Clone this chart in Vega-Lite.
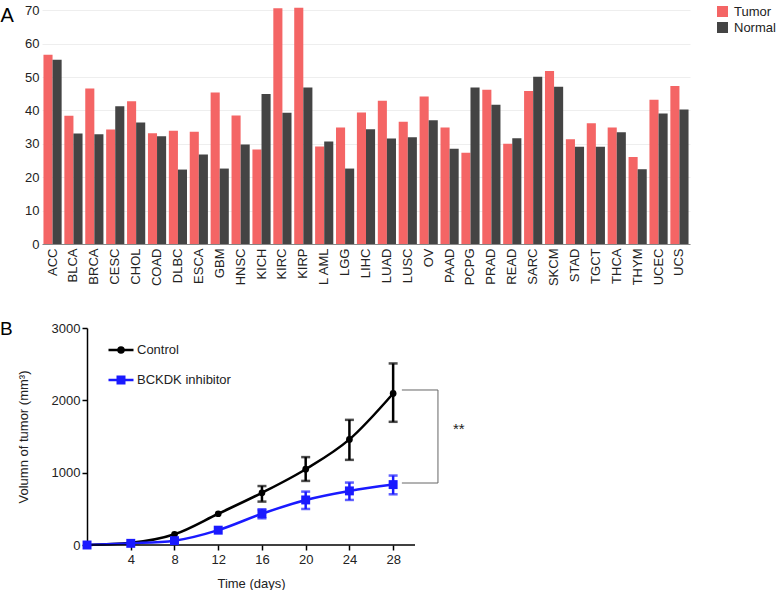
{
  "$schema": "https://vega.github.io/schema/vega-lite/v6.json",
  "padding": {"left": 0, "top": 4, "right": 0, "bottom": 0},
  "spacing": 34,
  "resolve": {"scale": {"color": "independent"}, "legend": {"color": "independent"}},
  "config": {
    "font": "Liberation Sans",
    "view": {"stroke": null},
    "axis": {"labelColor": "#222222", "titleColor": "#222222", "labelFontSize": 13, "titleFontSize": 13, "titleFontWeight": "normal"},
    "legend": {"labelColor": "#222222", "labelFontSize": 13}
  },
  "datasets": {
    "expr": [
      {"cancer": "ACC", "type": "Tumor", "value": 56.7}, {"cancer": "ACC", "type": "Normal", "value": 55.2},
      {"cancer": "BLCA", "type": "Tumor", "value": 38.4}, {"cancer": "BLCA", "type": "Normal", "value": 33.1},
      {"cancer": "BRCA", "type": "Tumor", "value": 46.6}, {"cancer": "BRCA", "type": "Normal", "value": 32.9},
      {"cancer": "CESC", "type": "Tumor", "value": 34.3}, {"cancer": "CESC", "type": "Normal", "value": 41.3},
      {"cancer": "CHOL", "type": "Tumor", "value": 42.8}, {"cancer": "CHOL", "type": "Normal", "value": 36.4},
      {"cancer": "COAD", "type": "Tumor", "value": 33.2}, {"cancer": "COAD", "type": "Normal", "value": 32.3},
      {"cancer": "DLBC", "type": "Tumor", "value": 33.9}, {"cancer": "DLBC", "type": "Normal", "value": 22.3},
      {"cancer": "ESCA", "type": "Tumor", "value": 33.6}, {"cancer": "ESCA", "type": "Normal", "value": 26.8},
      {"cancer": "GBM", "type": "Tumor", "value": 45.4}, {"cancer": "GBM", "type": "Normal", "value": 22.6},
      {"cancer": "HNSC", "type": "Tumor", "value": 38.5}, {"cancer": "HNSC", "type": "Normal", "value": 29.8},
      {"cancer": "KICH", "type": "Tumor", "value": 28.3}, {"cancer": "KICH", "type": "Normal", "value": 44.9},
      {"cancer": "KIRC", "type": "Tumor", "value": 70.6}, {"cancer": "KIRC", "type": "Normal", "value": 39.3},
      {"cancer": "KIRP", "type": "Tumor", "value": 70.8}, {"cancer": "KIRP", "type": "Normal", "value": 46.9},
      {"cancer": "L AML", "type": "Tumor", "value": 29.2}, {"cancer": "L AML", "type": "Normal", "value": 30.7},
      {"cancer": "LGG", "type": "Tumor", "value": 34.9}, {"cancer": "LGG", "type": "Normal", "value": 22.6},
      {"cancer": "LIHC", "type": "Tumor", "value": 39.4}, {"cancer": "LIHC", "type": "Normal", "value": 34.4},
      {"cancer": "LUAD", "type": "Tumor", "value": 42.9}, {"cancer": "LUAD", "type": "Normal", "value": 31.6},
      {"cancer": "LUSC", "type": "Tumor", "value": 36.6}, {"cancer": "LUSC", "type": "Normal", "value": 32.0},
      {"cancer": "OV", "type": "Tumor", "value": 44.2}, {"cancer": "OV", "type": "Normal", "value": 37.1},
      {"cancer": "PAAD", "type": "Tumor", "value": 34.9}, {"cancer": "PAAD", "type": "Normal", "value": 28.5},
      {"cancer": "PCPG", "type": "Tumor", "value": 27.3}, {"cancer": "PCPG", "type": "Normal", "value": 46.9},
      {"cancer": "PRAD", "type": "Tumor", "value": 46.2}, {"cancer": "PRAD", "type": "Normal", "value": 41.7},
      {"cancer": "READ", "type": "Tumor", "value": 30.0}, {"cancer": "READ", "type": "Normal", "value": 31.7},
      {"cancer": "SARC", "type": "Tumor", "value": 45.8}, {"cancer": "SARC", "type": "Normal", "value": 50.1},
      {"cancer": "SKCM", "type": "Tumor", "value": 51.8}, {"cancer": "SKCM", "type": "Normal", "value": 47.1},
      {"cancer": "STAD", "type": "Tumor", "value": 31.4}, {"cancer": "STAD", "type": "Normal", "value": 29.1},
      {"cancer": "TGCT", "type": "Tumor", "value": 36.2}, {"cancer": "TGCT", "type": "Normal", "value": 29.1},
      {"cancer": "THCA", "type": "Tumor", "value": 34.9}, {"cancer": "THCA", "type": "Normal", "value": 33.5},
      {"cancer": "THYM", "type": "Tumor", "value": 26.1}, {"cancer": "THYM", "type": "Normal", "value": 22.4},
      {"cancer": "UCEC", "type": "Tumor", "value": 43.2}, {"cancer": "UCEC", "type": "Normal", "value": 39.1},
      {"cancer": "UCS", "type": "Tumor", "value": 47.3}, {"cancer": "UCS", "type": "Normal", "value": 40.3}
    ],
    "growth": [
      {"day": 0, "group": "Control", "mean": 0},
      {"day": 4, "group": "Control", "mean": 30},
      {"day": 8, "group": "Control", "mean": 148},
      {"day": 12, "group": "Control", "mean": 432},
      {"day": 16, "group": "Control", "mean": 722, "lo": 600, "hi": 815},
      {"day": 20, "group": "Control", "mean": 1048, "lo": 886, "hi": 1215},
      {"day": 24, "group": "Control", "mean": 1460, "lo": 1177, "hi": 1730},
      {"day": 28, "group": "Control", "mean": 2095, "lo": 1703, "hi": 2510},
      {"day": 0, "group": "BCKDK inhibitor", "mean": 0},
      {"day": 4, "group": "BCKDK inhibitor", "mean": 23},
      {"day": 8, "group": "BCKDK inhibitor", "mean": 60},
      {"day": 12, "group": "BCKDK inhibitor", "mean": 205},
      {"day": 16, "group": "BCKDK inhibitor", "mean": 432, "lo": 369, "hi": 494},
      {"day": 20, "group": "BCKDK inhibitor", "mean": 623, "lo": 498, "hi": 738},
      {"day": 24, "group": "BCKDK inhibitor", "mean": 748, "lo": 623, "hi": 863},
      {"day": 28, "group": "BCKDK inhibitor", "mean": 835, "lo": 701, "hi": 960}
    ],
    "baseline": [
      {"x1": 0, "x2": 30, "y": 0}
    ],
    "bracket": [
      {"x1": 28.8, "x2": 32.1, "y1": 2143, "y2": 2143},
      {"x1": 28.8, "x2": 32.1, "y1": 857, "y2": 857},
      {"x1": 32.1, "x2": 32.1, "y1": 857, "y2": 2143}
    ],
    "sig": [
      {"x": 34.0, "y": 1600, "label": "**"}
    ]
  },
  "vconcat": [
    {
      "width": 648,
      "height": 237,
      "data": {"name": "expr"},
      "mark": {"type": "bar"},
      "encoding": {
        "x": {
          "field": "cancer", "type": "nominal", "sort": null,
          "scale": {"paddingInner": 0.13, "paddingOuter": 0.07},
          "axis": {"title": null, "labelAngle": -90, "domainColor": "#888888", "ticks": false, "labelPadding": 4}
        },
        "xOffset": {"field": "type", "type": "nominal", "sort": ["Tumor", "Normal"], "scale": {"paddingInner": 0, "paddingOuter": 0}},
        "y": {
          "field": "value", "type": "quantitative",
          "scale": {"domain": [0, 71], "nice": false},
          "axis": {
            "values": [0, 10, 20, 30, 40, 50, 60, 70],
            "title": "A", "titleAngle": 0, "titleX": -42, "titleY": -2, "titleAlign": "left", "titleBaseline": "top",
            "titleFontSize": 20, "titleFontWeight": "normal", "titleColor": "#000000",
            "grid": true, "gridColor": "#eeeeee", "domain": false, "ticks": false, "labelPadding": 3
          }
        },
        "color": {
          "field": "type", "type": "nominal", "sort": ["Tumor", "Normal"],
          "scale": {"domain": ["Tumor", "Normal"], "range": ["#f46565", "#444444"]},
          "legend": {"title": null, "orient": "none", "legendX": 674, "legendY": -2, "symbolType": "square", "symbolSize": 121, "symbolStrokeWidth": 0, "rowPadding": 2, "labelOffset": 5}
        }
      }
    },
    {
      "width": 373,
      "height": 217,
      "title": {"text": "B", "anchor": "start", "frame": "group", "dx": -42, "offset": -32, "fontSize": 19, "fontWeight": "normal", "color": "#000000", "baseline": "alphabetic"},
      "layer": [
        {
          "data": {"name": "growth"},
          "mark": {"type": "line", "interpolate": "monotone", "strokeWidth": 2.5},
          "encoding": {
            "x": {
              "field": "day", "type": "quantitative",
              "scale": {"domain": [-4.12, 30], "nice": false, "zero": false},
              "axis": {"title": "Time (days)", "titleX": 209, "values": [4, 8, 12, 16, 20, 24, 28], "grid": false, "domain": false, "tickColor": "#000000", "tickWidth": 1.5, "tickSize": 5, "labelPadding": 3, "titlePadding": 11}
            },
            "y": {
              "field": "mean", "type": "quantitative",
              "scale": {"domain": [0, 3000], "nice": false},
              "axis": {"title": "Volumn of tumor (mm³)", "offset": -45, "format": "d", "values": [0, 1000, 2000, 3000], "grid": false, "domainColor": "#000000", "domainWidth": 1.5, "tickColor": "#000000", "tickWidth": 1.5, "tickSize": 5, "labelPadding": 2, "titlePadding": 21}
            },
            "color": {
              "field": "group", "type": "nominal",
              "scale": {"domain": ["Control", "BCKDK inhibitor"], "range": ["#000000", "#1a1aff"]},
              "legend": {
                "title": null, "orient": "none", "legendX": 65, "legendY": 8,
                "symbolSize": 625, "rowPadding": 8, "labelOffset": 2, "symbolStrokeWidth": 2.5,
                "encode": {
                  "symbols": {
                    "update": {
                      "shape": {"signal": "datum.value === 'Control' ? 'M-1,0H1M-0.2,0A0.2,0.2 0 1,0 0.2,0A0.2,0.2 0 1,0 -0.2,0Z' : 'M-1,0H1M-0.26,-0.26H0.26V0.26H-0.26Z'"},
                      "fill": {"signal": "datum.value === 'Control' ? '#000000' : '#1a1aff'"},
                      "stroke": {"signal": "datum.value === 'Control' ? '#000000' : '#1a1aff'"},
                      "strokeWidth": {"value": 2.5}
                    }
                  }
                }
              }
            }
          }
        },
        {
          "data": {"name": "baseline"},
          "mark": {"type": "rule", "color": "#000000", "strokeWidth": 1.5},
          "encoding": {
            "x": {"field": "x1", "type": "quantitative"},
            "x2": {"field": "x2"},
            "y": {"field": "y", "type": "quantitative"}
          }
        },
        {
          "data": {"name": "growth"},
          "transform": [{"filter": "datum.lo != null"}],
          "mark": {"type": "errorbar", "thickness": 2.5, "ticks": {"size": 9, "thickness": 2.5}},
          "encoding": {
            "x": {"field": "day", "type": "quantitative"},
            "y": {"field": "lo", "type": "quantitative", "title": "Volumn of tumor (mm³)"},
            "y2": {"field": "hi"},
            "color": {"field": "group", "type": "nominal"}
          }
        },
        {
          "data": {"name": "growth"},
          "mark": {"type": "point", "filled": true, "opacity": 1},
          "encoding": {
            "x": {"field": "day", "type": "quantitative"},
            "y": {"field": "mean", "type": "quantitative"},
            "color": {"field": "group", "type": "nominal"},
            "shape": {"field": "group", "type": "nominal", "scale": {"domain": ["Control", "BCKDK inhibitor"], "range": ["circle", "square"]}, "legend": null},
            "size": {"field": "group", "type": "nominal", "scale": {"domain": ["Control", "BCKDK inhibitor"], "range": [45, 80]}, "legend": null}
          }
        },
        {
          "data": {"name": "bracket"},
          "mark": {"type": "rule", "color": "#666666", "strokeWidth": 1},
          "encoding": {
            "x": {"field": "x1", "type": "quantitative"},
            "x2": {"field": "x2"},
            "y": {"field": "y1", "type": "quantitative"},
            "y2": {"field": "y2"}
          }
        },
        {
          "data": {"name": "sig"},
          "mark": {"type": "text", "fontSize": 15, "color": "#222222", "baseline": "middle"},
          "encoding": {
            "x": {"field": "x", "type": "quantitative"},
            "y": {"field": "y", "type": "quantitative"},
            "text": {"field": "label"}
          }
        }
      ]
    }
  ]
}
